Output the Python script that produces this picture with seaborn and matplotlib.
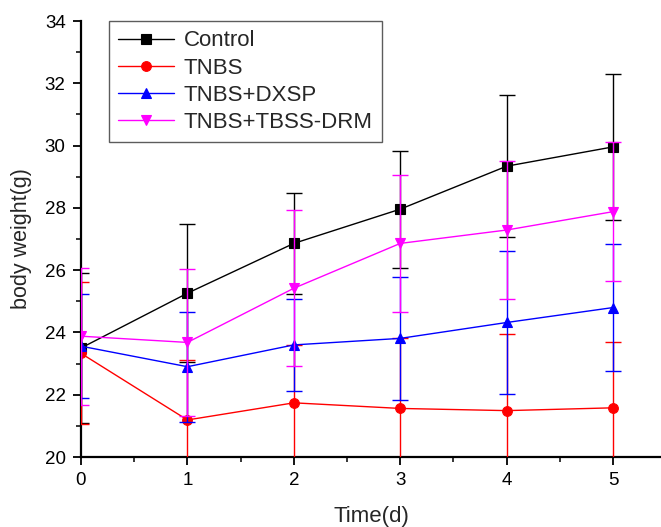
import matplotlib
matplotlib.use("Agg")
import matplotlib.pyplot as plt
from matplotlib.ticker import MultipleLocator
import numpy as np
import pandas as pd
import seaborn as sns

# Body weight over time for each treatment group (mean ± SD)
days = [0, 1, 2, 3, 4, 5]
groups = ["Control", "TNBS", "TNBS+DXSP", "TNBS+TBSS-DRM"]

control_mean = [23.50, 25.26, 26.86, 27.96, 29.34, 29.96]
control_sd = [2.40, 2.21, 1.63, 1.88, 2.28, 2.34]

tnbs_mean = [23.33, 21.19, 21.74, 21.56, 21.49, 21.58]
tnbs_sd = [2.28, 1.92, 1.86, 2.25, 2.45, 2.12]

dxsp_mean = [23.56, 22.90, 23.60, 23.81, 24.32, 24.80]
dxsp_sd = [1.67, 1.76, 1.47, 1.98, 2.29, 2.03]

tbss_mean = [23.88, 23.68, 25.42, 26.86, 27.29, 27.88]
tbss_sd = [2.20, 2.36, 2.50, 2.20, 2.22, 2.23]

means = [control_mean, tnbs_mean, dxsp_mean, tbss_mean]
sds = [control_sd, tnbs_sd, dxsp_sd, tbss_sd]
colors = ["#000000", "#ff0000", "#0000ff", "#ff00ff"]
markers = ["s", "o", "^", "v"]

df = pd.concat(
    [pd.DataFrame({"day": days, "weight": m, "sd": s, "group": g})
     for g, m, s in zip(groups, means, sds)],
    ignore_index=True,
)

sns.set_style("ticks")
plt.rcParams["font.family"] = ["Liberation Sans", "DejaVu Sans"]

fig = plt.figure(figsize=(6.61, 5.27), dpi=100)
ax = fig.add_axes([0.1225, 0.1328, 0.8775, 0.8272])

for i, (g, c, mk) in enumerate(zip(groups, colors, markers)):
    sub = df[df["group"] == g]
    ax.errorbar(sub["day"], sub["weight"], yerr=sub["sd"], fmt="none",
                ecolor=c, elinewidth=1.0, capsize=6, capthick=1.0,
                zorder=2 + 2 * i, clip_on=True)
    sns.lineplot(data=sub, x="day", y="weight", ax=ax, color=c,
                 marker=mk, markersize=7, markeredgecolor=c,
                 markeredgewidth=0.8, linewidth=1.0, label=g,
                 zorder=3 + 2 * i, errorbar=None)

ax.set_xlim(0, 5.45)
ax.set_ylim(20, 34)
ax.xaxis.set_major_locator(MultipleLocator(1))
ax.xaxis.set_minor_locator(MultipleLocator(0.5))
ax.yaxis.set_major_locator(MultipleLocator(2))
ax.yaxis.set_minor_locator(MultipleLocator(1))
ax.tick_params(axis="both", which="major", direction="out", length=6,
               width=1.3, labelsize=13.5, colors="black")
ax.tick_params(axis="y", which="major", pad=5)
ax.tick_params(axis="x", which="major", pad=5)
ax.tick_params(axis="both", which="minor", direction="out", length=3.5,
               width=1.3)

sns.despine(ax=ax)
for side in ("left", "bottom"):
    ax.spines[side].set_linewidth(1.6)
    ax.spines[side].set_color("black")

ax.set_xlabel("Time(d)", fontsize=16, labelpad=12)
ax.set_ylabel("body weight(g)", fontsize=15.5, labelpad=9)

leg = ax.legend(loc="upper left", bbox_to_anchor=(0.048, 1.0),
                borderaxespad=0, fontsize=16, frameon=True, fancybox=False,
                edgecolor="#333333", handlelength=2.5, labelspacing=0.28,
                handletextpad=0.45, borderpad=0.42)
leg.get_frame().set_linewidth(1.0)

fig.savefig("out.png", dpi=100)
